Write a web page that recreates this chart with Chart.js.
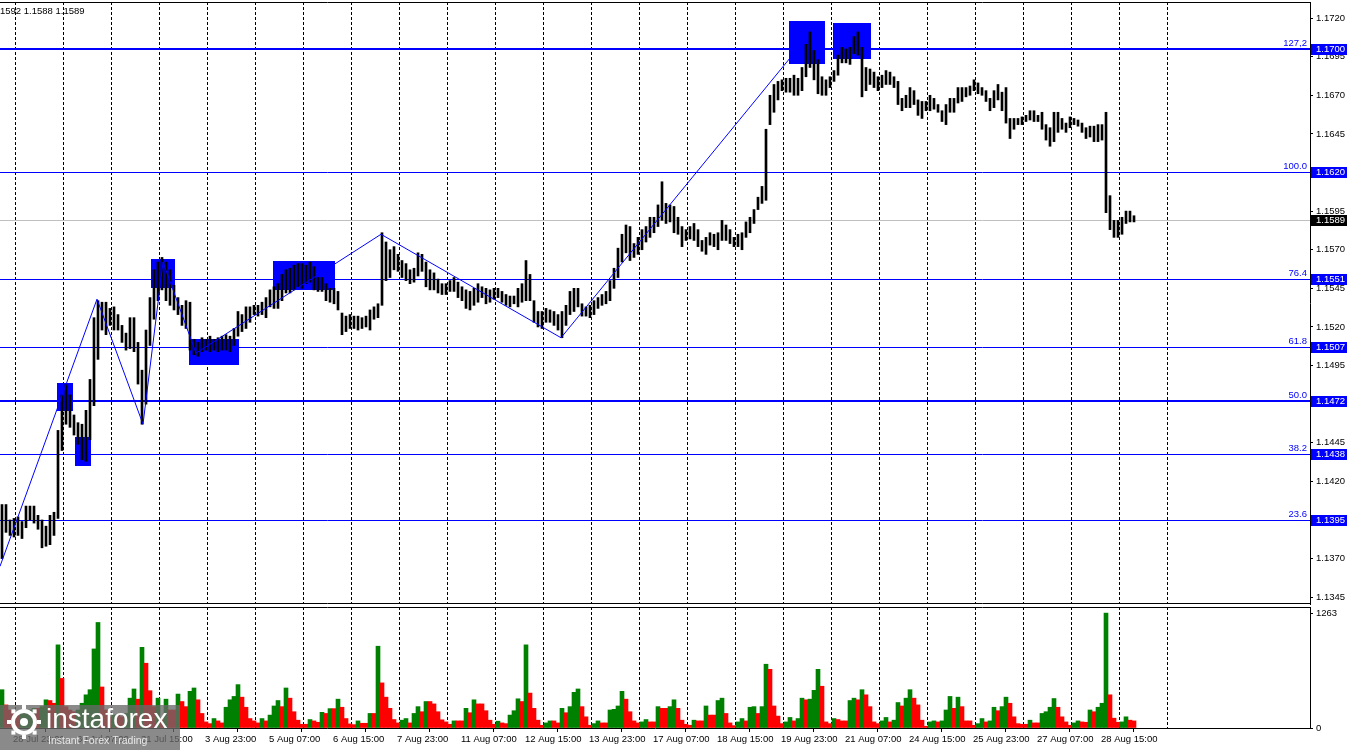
<!DOCTYPE html>
<html>
<head>
<meta charset="utf-8">
<script src="https://cdn.jsdelivr.net/npm/chart.js@4.4.1/dist/chart.umd.min.js"></script>
<style>
html, body { margin: 0; padding: 0; background: #fff; overflow: hidden; }
#wrap { position: relative; width: 1350px; height: 750px; }
#price { position: absolute; left: 0; top: 0; }
#volume { position: absolute; left: 0; top: 606px; }
</style>
</head>
<body>
<div id="wrap">
  <canvas id="price" width="1350" height="606"></canvas>
  <canvas id="volume" width="1350" height="144"></canvas>
</div>
<script>
var highs = [
  1.1405, 1.1405, 1.1395, 1.1396, 1.1397, 1.1394, 1.1404, 1.1404, 1.1404, 1.1398,
  1.1395, 1.1391, 1.1398, 1.1400, 1.1453, 1.1476, 1.1483, 1.1476, 1.1463, 1.1458,
  1.1457, 1.1466, 1.1486, 1.1526, 1.1537, 1.1536, 1.1536, 1.1532, 1.1533, 1.1528,
  1.1521, 1.1516, 1.1526, 1.1526, 1.1510, 1.1492, 1.1518, 1.1539, 1.1557, 1.1562,
  1.1565, 1.1562, 1.1557, 1.1547, 1.1539, 1.1534, 1.1537, 1.1536, 1.1512, 1.1510,
  1.1513, 1.1512, 1.1514, 1.1512, 1.1513, 1.1514, 1.1515, 1.1514, 1.1519, 1.1530,
  1.1528, 1.1533, 1.1533, 1.1534, 1.1534, 1.1536, 1.1539, 1.1544, 1.1546, 1.1548,
  1.1554, 1.1557, 1.1558, 1.1560, 1.1561, 1.1561, 1.1560, 1.1562, 1.1559, 1.1552,
  1.1552, 1.1548, 1.1545, 1.1545, 1.1543, 1.1529, 1.1527, 1.1528, 1.1527, 1.1527,
  1.1526, 1.1527, 1.1531, 1.1533, 1.1535, 1.1581, 1.1575, 1.1570, 1.1572, 1.1567,
  1.1563, 1.1561, 1.1557, 1.1558, 1.1568, 1.1567, 1.1562, 1.1557, 1.1555, 1.1551,
  1.1548, 1.1548, 1.1550, 1.1552, 1.1549, 1.1546, 1.1544, 1.1543, 1.1545, 1.1548,
  1.1546, 1.1545, 1.1544, 1.1545, 1.1545, 1.1543, 1.1541, 1.1540, 1.1540, 1.1545,
  1.1548, 1.1563, 1.1554, 1.1537, 1.1530, 1.1530, 1.1532, 1.1531, 1.1530, 1.1528,
  1.1530, 1.1534, 1.1543, 1.1545, 1.1545, 1.1535, 1.1533, 1.1534, 1.1537, 1.1539,
  1.1541, 1.1543, 1.1550, 1.1558, 1.1571, 1.1580, 1.1586, 1.1585, 1.1574, 1.1578,
  1.1583, 1.1585, 1.1591, 1.1591, 1.1599, 1.1614, 1.1600, 1.1599, 1.1598, 1.1591,
  1.1585, 1.1583, 1.1585, 1.1587, 1.1583, 1.1576, 1.1578, 1.1581, 1.1580, 1.1581,
  1.1589, 1.1586, 1.1583, 1.1578, 1.1580, 1.1581, 1.1588, 1.1591, 1.1596, 1.1604,
  1.1611, 1.1648, 1.1670, 1.1677, 1.1679, 1.1680, 1.1681, 1.1681, 1.1683, 1.1681,
  1.1688, 1.1703, 1.1711, 1.1699, 1.1693, 1.1682, 1.1680, 1.1682, 1.1686, 1.1696,
  1.1701, 1.1700, 1.1701, 1.1708, 1.1711, 1.1701, 1.1688, 1.1687, 1.1685, 1.1682,
  1.1683, 1.1686, 1.1685, 1.1682, 1.1679, 1.1668, 1.1670, 1.1675, 1.1673, 1.1667,
  1.1666, 1.1666, 1.1670, 1.1668, 1.1664, 1.1660, 1.1664, 1.1668, 1.1668, 1.1675,
  1.1675, 1.1675, 1.1676, 1.1680, 1.1678, 1.1675, 1.1673, 1.1668, 1.1673, 1.1677,
  1.1672, 1.1675, 1.1655, 1.1655, 1.1655, 1.1656, 1.1657, 1.1660, 1.1660, 1.1657,
  1.1659, 1.1651, 1.1649, 1.1659, 1.1659, 1.1655, 1.1652, 1.1656, 1.1655, 1.1654,
  1.1652, 1.1649, 1.1650, 1.1650, 1.1651, 1.1651, 1.1659, 1.1605, 1.1589, 1.1589,
  1.1591, 1.1595, 1.1595, 1.1592
];
var lows = [
  1.1370, 1.1387, 1.1385, 1.1384, 1.1385, 1.1383, 1.1390, 1.1395, 1.1393, 1.1389,
  1.1377, 1.1378, 1.1379, 1.1385, 1.1396, 1.1440, 1.1457, 1.1455, 1.1450, 1.1444,
  1.1434, 1.1433, 1.1447, 1.1469, 1.1499, 1.1518, 1.1515, 1.1521, 1.1518, 1.1518,
  1.1510, 1.1505, 1.1506, 1.1504, 1.1483, 1.1457, 1.1470, 1.1508, 1.1525, 1.1537,
  1.1544, 1.1537, 1.1534, 1.1531, 1.1528, 1.1521, 1.1519, 1.1505, 1.1502, 1.1501,
  1.1504, 1.1505, 1.1504, 1.1505, 1.1504, 1.1505, 1.1505, 1.1504, 1.1508, 1.1514,
  1.1517, 1.1519, 1.1523, 1.1528, 1.1527, 1.1528, 1.1526, 1.1533, 1.1532, 1.1532,
  1.1537, 1.1542, 1.1542, 1.1544, 1.1546, 1.1545, 1.1548, 1.1549, 1.1544, 1.1543,
  1.1543, 1.1537, 1.1536, 1.1535, 1.1531, 1.1515, 1.1517, 1.1519, 1.1519, 1.1518,
  1.1519, 1.1520, 1.1518, 1.1525, 1.1526, 1.1534, 1.1550, 1.1552, 1.1557, 1.1556,
  1.1552, 1.1550, 1.1548, 1.1549, 1.1553, 1.1556, 1.1546, 1.1544, 1.1544, 1.1542,
  1.1541, 1.1541, 1.1543, 1.1543, 1.1539, 1.1537, 1.1532, 1.1531, 1.1534, 1.1536,
  1.1539, 1.1535, 1.1536, 1.1538, 1.1539, 1.1536, 1.1534, 1.1533, 1.1535, 1.1533,
  1.1536, 1.1537, 1.1537, 1.1523, 1.1520, 1.1519, 1.1523, 1.1523, 1.1521, 1.1518,
  1.1513, 1.1521, 1.1528, 1.1530, 1.1533, 1.1527, 1.1527, 1.1526, 1.1528, 1.1532,
  1.1534, 1.1535, 1.1537, 1.1545, 1.1552, 1.1562, 1.1568, 1.1563, 1.1565, 1.1567,
  1.1570, 1.1575, 1.1578, 1.1581, 1.1585, 1.1589, 1.1587, 1.1588, 1.1581, 1.1580,
  1.1572, 1.1576, 1.1577, 1.1576, 1.1572, 1.1569, 1.1567, 1.1573, 1.1572, 1.1570,
  1.1576, 1.1576, 1.1574, 1.1572, 1.1572, 1.1570, 1.1578, 1.1581, 1.1587, 1.1596,
  1.1600, 1.1602, 1.1651, 1.1659, 1.1667, 1.1673, 1.1672, 1.1672, 1.1670, 1.1670,
  1.1673, 1.1682, 1.1688, 1.1680, 1.1671, 1.1670, 1.1670, 1.1675, 1.1679, 1.1683,
  1.1691, 1.1691, 1.1690, 1.1697, 1.1696, 1.1669, 1.1673, 1.1677, 1.1675, 1.1673,
  1.1675, 1.1677, 1.1677, 1.1675, 1.1664, 1.1660, 1.1662, 1.1662, 1.1664, 1.1657,
  1.1655, 1.1660, 1.1660, 1.1661, 1.1659, 1.1653, 1.1651, 1.1659, 1.1659, 1.1665,
  1.1666, 1.1669, 1.1670, 1.1673, 1.1671, 1.1670, 1.1666, 1.1660, 1.1662, 1.1667,
  1.1660, 1.1652, 1.1642, 1.1648, 1.1651, 1.1651, 1.1653, 1.1654, 1.1653, 1.1653,
  1.1648, 1.1641, 1.1637, 1.1640, 1.1646, 1.1648, 1.1646, 1.1649, 1.1651, 1.1650,
  1.1646, 1.1642, 1.1643, 1.1640, 1.1640, 1.1641, 1.1594, 1.1583, 1.1578, 1.1578,
  1.1580, 1.1587, 1.1588, 1.1588
];
var volumes = [
  421, 254, 198, 160, 142, 160, 179, 198, 216, 216,
  235, 310, 302, 272, 914, 545, 235, 198, 179, 198,
  272, 365, 421, 869, 1160, 451, 198, 123, 142, 142,
  123, 160, 328, 429, 317, 887, 712, 410, 235, 328,
  104, 317, 198, 198, 373, 291, 235, 403, 440, 310,
  160, 67, 48, 104, 78, 56, 228, 310, 347, 477,
  339, 228, 104, 78, 56, 104, 78, 142, 242, 302,
  235, 440, 328, 179, 86, 41, 41, 93, 78, 63,
  172, 160, 213, 213, 317, 228, 104, 45, 37, 78,
  52, 52, 160, 160, 899, 496, 339, 216, 93, 56,
  86, 104, 56, 160, 235, 179, 291, 291, 265, 179,
  90, 67, 41, 78, 78, 78, 216, 168, 310, 265,
  265, 190, 86, 41, 75, 56, 48, 142, 190, 321,
  291, 914, 384, 216, 86, 30, 56, 78, 78, 56,
  216, 168, 235, 392, 429, 235, 123, 30, 48, 78,
  56, 56, 198, 205, 242, 403, 317, 179, 78, 56,
  67, 93, 67, 67, 235, 216, 216, 235, 310, 216,
  86, 41, 30, 86, 78, 78, 242, 142, 142, 302,
  328, 160, 56, 26, 67, 104, 78, 228, 235, 160,
  235, 701, 645, 242, 131, 48, 67, 116, 78, 104,
  328, 310, 317, 414, 645, 459, 67, 48, 104, 93,
  78, 78, 302, 328, 310, 421, 365, 235, 67, 48,
  78, 116, 67, 86, 280, 242, 328, 421, 328, 254,
  86, 19, 67, 78, 67, 78, 198, 347, 216, 339,
  235, 78, 78, 30, 48, 104, 67, 78, 228, 190,
  235, 339, 272, 123, 48, 41, 41, 86, 56, 56,
  160, 179, 228, 324, 228, 123, 67, 30, 56, 78,
  67, 63, 198, 179, 228, 272, 1263, 365, 108, 63,
  67, 123, 86, 78
];
var timeLabels = ['28 Jul 23:00', '30 Jul 07:00', '31 Jul 15:00', '3 Aug 23:00', '5 Aug 07:00',
  '6 Aug 15:00', '7 Aug 23:00', '11 Aug 07:00', '12 Aug 15:00', '13 Aug 23:00', '17 Aug 07:00',
  '18 Aug 15:00', '19 Aug 23:00', '21 Aug 07:00', '24 Aug 15:00', '25 Aug 23:00', '27 Aug 07:00',
  '28 Aug 15:00'];
var priceTicks = [1.1345, 1.1370, 1.1395, 1.1420, 1.1445, 1.1470, 1.1495, 1.1520,
  1.1545, 1.1570, 1.1595, 1.1620, 1.1645, 1.1670, 1.1695, 1.1720];
var volumeTicks = [0, 1263];
var fibLevels = ['127,2', '100.0', '76.4', '61.8', '50.0', '38.2', '23.6'];
var fibPrices = [1.1700, 1.1620, 1.1551, 1.1507, 1.1472, 1.1438, 1.1395];
var lastPrice = 1.1589;
var quoteText = '1592 1.1588 1.1589';
// zigzag turning points (hour index, price)
var zigzagHour = [-0.5, 48, 71, 81, 97.5, 190, 280, 399.5];
var zigzagPrice = [1.1365, 1.1538, 1.1457, 1.1562, 1.1503, 1.1580, 1.1513, 1.1702];
// blue zones (hour index range, price range)
var zoneFrom = [28, 37, 75, 94, 136, 394, 416];
var zoneTo = [36, 45, 87, 119, 167, 412, 435];
var zoneLow = [1.1466, 1.1430, 1.1545, 1.1495, 1.1544, 1.1690, 1.1694];
var zoneHigh = [1.1484, 1.1449, 1.1564, 1.1512, 1.1563, 1.1718, 1.1717];

var FONT = { family: 'Liberation Sans', size: 9.5 };
var BLUE = '#0000ff';
var X_MIN = -0.5, X_MAX = 654.5;

var priceBars = highs.map(function (h, j) { return { x: 2 * j + 0.5, y: [lows[j], h] }; });
var volumeBars = volumes.map(function (v, j) { return { x: 2 * j + 0.5, y: v }; });
var zigzag = zigzagHour.map(function (h, i) { return { x: h, y: zigzagPrice[i] }; });

function noPad(s) { s.paddingTop = 0; s.paddingBottom = 0; s.paddingLeft = 0; s.paddingRight = 0; }

// dashed day separators, every 24 bars from the first midnight
var dayGrid = {
  id: 'dayGrid',
  beforeDatasetsDraw: function (chart) {
    var x = chart.scales.x, a = chart.chartArea, c = chart.ctx;
    c.save();
    c.strokeStyle = '#000';
    c.lineWidth = 1;
    c.setLineDash([3, 2]);
    for (var h = 7; h < 600; h += 24) {
      var px = Math.round(x.getPixelForValue(h)) + 0.5;
      c.beginPath(); c.moveTo(px, a.top); c.lineTo(px, a.bottom); c.stroke();
    }
    c.restore();
  }
};

var priceDecor = {
  id: 'priceDecor',
  beforeDatasetsDraw: function (chart) {
    var x = chart.scales.x, y = chart.scales.y, a = chart.chartArea, c = chart.ctx;
    c.save();
    // current price line
    var ly = Math.round(y.getPixelForValue(lastPrice)) + 0.5;
    c.strokeStyle = '#c0c0c0'; c.lineWidth = 1;
    c.beginPath(); c.moveTo(a.left, ly); c.lineTo(a.right, ly); c.stroke();
    // fibonacci levels
    c.strokeStyle = BLUE;
    fibPrices.forEach(function (p, i) {
      var w = (fibLevels[i] === '127,2' || fibLevels[i] === '50.0') ? 2 : 1;
      var py = Math.round(y.getPixelForValue(p)) + (w === 1 ? 0.5 : 0);
      c.lineWidth = w;
      c.beginPath(); c.moveTo(a.left, py); c.lineTo(a.right, py); c.stroke();
    });
    // zones
    c.fillStyle = BLUE;
    zoneFrom.forEach(function (f, i) {
      var x0 = x.getPixelForValue(f), x1 = x.getPixelForValue(zoneTo[i]);
      var y0 = y.getPixelForValue(zoneHigh[i]), y1 = y.getPixelForValue(zoneLow[i]);
      c.fillRect(Math.round(x0), Math.round(y0), Math.round(x1 - x0), Math.round(y1 - y0));
    });
    c.restore();
  },
  afterDraw: function (chart) {
    var y = chart.scales.y, a = chart.chartArea, c = chart.ctx;
    c.save();
    // frame
    c.strokeStyle = '#000'; c.lineWidth = 1;
    c.beginPath();
    c.moveTo(0, a.top + 0.5); c.lineTo(a.right, a.top + 0.5);
    c.moveTo(0, a.bottom - 0.5); c.lineTo(a.right, a.bottom - 0.5);
    c.stroke();
    c.font = FONT.size + 'px ' + FONT.family;
    // level captions and axis boxes
    fibPrices.forEach(function (p, i) {
      var py = Math.round(y.getPixelForValue(p));
      c.fillStyle = BLUE;
      c.textAlign = 'right'; c.textBaseline = 'bottom';
      c.fillText(fibLevels[i], a.right - 3, py - 1);
      c.fillRect(a.right + 1, py - 5, 36, 11);
      c.fillStyle = '#fff';
      c.textAlign = 'left'; c.textBaseline = 'middle';
      c.fillText(p.toFixed(4), a.right + 6, py + 0.5);
    });
    var ly = Math.round(y.getPixelForValue(lastPrice));
    c.fillStyle = '#000';
    c.fillRect(a.right + 1, ly - 5, 36, 11);
    c.fillStyle = '#fff';
    c.fillText(lastPrice.toFixed(4), a.right + 6, ly + 0.5);
    // quote line, top left
    c.fillStyle = '#000';
    c.textAlign = 'left'; c.textBaseline = 'middle';
    c.fillText(quoteText, 0, 11);
    c.restore();
  }
};

var volumeDecor = {
  id: 'volumeDecor',
  afterDraw: function (chart) {
    var a = chart.chartArea, c = chart.ctx;
    c.save();
    c.strokeStyle = '#000'; c.lineWidth = 1;
    c.beginPath(); c.moveTo(0, a.top + 0.5); c.lineTo(a.right, a.top + 0.5); c.stroke();
    // watermark
    c.fillStyle = 'rgba(105,105,105,0.78)';
    c.fillRect(0, 99, 180, 45);
    c.strokeStyle = '#fff'; c.lineWidth = 4;
    c.beginPath(); c.arc(24, 116, 11, 0, Math.PI * 2); c.stroke();
    c.fillStyle = '#fff';
    c.beginPath(); c.arc(24, 116, 4, 0, Math.PI * 2); c.fill();
    for (var k = 0; k < 8; k++) {
      var ang = k * Math.PI / 4;
      c.fillRect(24 + Math.cos(ang) * 15 - 2, 116 + Math.sin(ang) * 15 - 2, 4, 4);
    }
    c.font = '28px Liberation Sans';
    c.textAlign = 'left'; c.textBaseline = 'alphabetic';
    c.fillText('instaforex', 46, 122);
    c.fillStyle = '#e8e8e8';
    c.font = '10.5px Liberation Sans';
    c.fillText('Instant Forex Trading', 48, 138);
    c.restore();
  }
};

new Chart(document.getElementById('price').getContext('2d'), {
  type: 'bar',
  data: {
    datasets: [
      {
        type: 'bar',
        data: priceBars,
        backgroundColor: '#000',
        borderWidth: 0,
        barThickness: 2,
        order: 1
      },
      {
        type: 'line',
        data: zigzag,
        borderColor: BLUE,
        borderWidth: 1,
        pointRadius: 0,
        tension: 0,
        fill: false,
        order: 0
      }
    ]
  },
  options: {
    responsive: false,
    animation: false,
    devicePixelRatio: 1,
    events: [],
    layout: { padding: { top: 2, bottom: 2, left: 0, right: 0 } },
    plugins: { legend: { display: false }, tooltip: { enabled: false } },
    scales: {
      x: { type: 'linear', min: X_MIN, max: X_MAX, offset: false, display: false },
      y: {
        position: 'right',
        min: 1.13406,
        max: 1.17304,
        afterFit: function (s) { s.width = 40; noPad(s); },
        afterBuildTicks: function (s) { s.ticks = priceTicks.map(function (v) { return { value: v }; }); },
        ticks: {
          callback: function (v) { return v.toFixed(4); },
          color: '#000', font: FONT, padding: 3, autoSkip: false
        },
        grid: { drawOnChartArea: false, drawTicks: true, tickLength: 3, color: '#000' },
        border: { display: true, color: '#000' }
      }
    }
  },
  plugins: [dayGrid, priceDecor]
});

new Chart(document.getElementById('volume').getContext('2d'), {
  type: 'bar',
  data: {
    datasets: [{
      data: volumeBars,
      backgroundColor: function (ctx) {
        var i = ctx.dataIndex;
        return (i === 0 || volumes[i] > volumes[i - 1]) ? '#008000' : '#ff0000';
      },
      borderWidth: 0,
      barThickness: 4
    }]
  },
  options: {
    responsive: false,
    animation: false,
    devicePixelRatio: 1,
    events: [],
    layout: { padding: { top: 1, bottom: 0, left: 0, right: 0 } },
    plugins: { legend: { display: false }, tooltip: { enabled: false } },
    scales: {
      x: {
        type: 'linear', min: X_MIN, max: X_MAX, offset: false,
        afterFit: function (s) { s.height = 22; noPad(s); },
        afterBuildTicks: function (s) { s.ticks = timeLabels.map(function (t, i) { return { value: 6 + 32 * i }; }); },
        ticks: {
          callback: function (v, i) { return timeLabels[i]; },
          align: 'start', maxRotation: 0, autoSkip: false, color: '#000', font: FONT, padding: 2
        },
        grid: { drawOnChartArea: false, drawTicks: true, tickLength: 4, color: '#000' },
        border: { display: true, color: '#000' }
      },
      y: {
        position: 'right',
        min: 0,
        max: 1330,
        afterFit: function (s) { s.width = 40; noPad(s); },
        afterBuildTicks: function (s) { s.ticks = volumeTicks.map(function (v) { return { value: v }; }); },
        ticks: {
          callback: function (v) { return String(v); },
          color: '#000', font: FONT, padding: 3, autoSkip: false
        },
        grid: { drawOnChartArea: false, drawTicks: true, tickLength: 3, color: '#000' },
        border: { display: true, color: '#000' }
      }
    }
  },
  plugins: [dayGrid, volumeDecor]
});
</script>
</body>
</html>
